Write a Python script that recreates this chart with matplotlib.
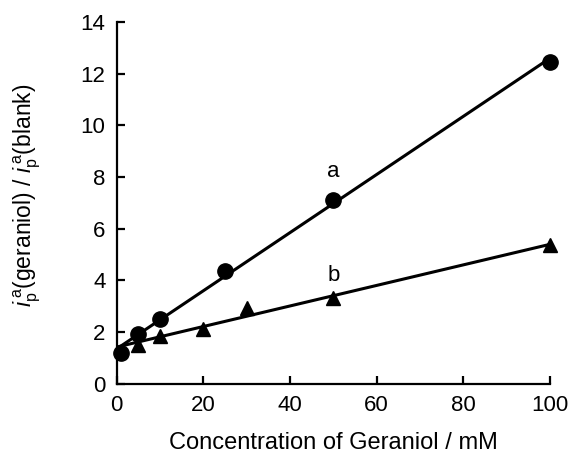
import numpy as np
import matplotlib
matplotlib.use("Agg")
import matplotlib.pyplot as plt

plt.rcParams["font.family"] = ["Liberation Sans", "DejaVu Sans"]
plt.rcParams["mathtext.fontset"] = "custom"
plt.rcParams["mathtext.rm"] = "Liberation Sans"
plt.rcParams["mathtext.it"] = "Liberation Sans:italic"

# data
conc_a = [1, 5, 10, 25, 50, 100]
ratio_a = [1.18, 1.92, 2.5, 4.36, 7.11, 12.47]
conc_b = [5, 10, 20, 30, 50, 100]
ratio_b = [1.49, 1.84, 2.11, 2.91, 3.3, 5.37]

fig = plt.figure(figsize=(5.71, 4.63), dpi=100)
ax = fig.add_axes([0.2044, 0.1717, 0.7586, 0.7808])

xfit = np.array([0, 100])
for xs, ys, mk in [(conc_a, ratio_a, "o"), (conc_b, ratio_b, "^")]:
    k, b = np.polyfit(xs, ys, 1)
    ax.plot(xfit, k * xfit + b, "k-", lw=2.2)
    ax.plot(xs, ys, "k" + mk, ms=11 if mk == "o" else 10, clip_on=False)

ax.text(50, 8.2, "a", fontsize=16, ha="center", va="center")
ax.text(50, 4.2, "b", fontsize=16, ha="center", va="center")

ax.set_xlim(0, 100)
ax.set_ylim(0, 14)
ax.set_xticks(range(0, 101, 20))
ax.set_yticks(range(0, 15, 2))
for s in ["top", "right"]:
    ax.spines[s].set_visible(False)
for s in ["left", "bottom"]:
    ax.spines[s].set_linewidth(1.6)
ax.tick_params(direction="in", length=6, width=1.6, labelsize=16, pad=8)

ax.set_xlabel("Concentration of Geraniol / mM", fontsize=17)
ax.xaxis.set_label_coords(0.5, -0.133)
ax.set_ylabel(r"$i_\mathrm{p}^{\,\mathrm{a}}$(geraniol) / $i_\mathrm{p}^{\,\mathrm{a}}$(blank)",
              fontsize=16.5, va="center")
ax.yaxis.set_label_coords(-0.207, 0.521)

plt.savefig("out.png", dpi=100)
